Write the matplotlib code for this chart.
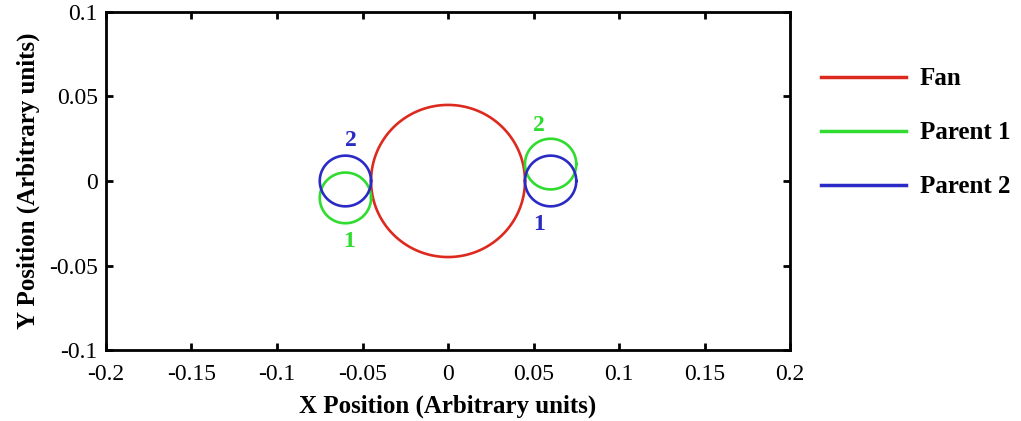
import numpy as np
import matplotlib.pyplot as plt

# circle geometry: (x centre, y centre, radius)
fan = (0.0, 0.0, 0.045)
parent1 = [(-0.06, -0.01, 0.015), (0.06, 0.01, 0.015)]
parent2 = [(-0.06, 0.0, 0.015), (0.06, 0.0, 0.015)]

# small index labels next to the parent circles: (x, y, text, series)
tags = [(-0.057, 0.024, '2', 'p2'), (-0.058, -0.036, '1', 'p1'),
        (0.053, 0.033, '2', 'p1'), (0.053, -0.026, '1', 'p2')]

red = '#dd2a1e'
green = '#2fdc2f'
blue = '#2a2ac4'
cols = {'p1': green, 'p2': blue}

plt.rcParams['font.family'] = ['Liberation Serif', 'DejaVu Serif']

fig = plt.figure(figsize=(10.21, 4.21), dpi=100)
ax = fig.add_axes([0.1038, 0.1686, 0.67, 0.803])

t = np.linspace(0, 2 * np.pi, 400)

def circle(c, color, label=None):
    x0, y0, r = c
    return ax.plot(x0 + r * np.cos(t), y0 + r * np.sin(t), color=color, lw=1.9, label=label)

circle(fan, red, 'Fan')
for i, c in enumerate(parent1):
    circle(c, green, 'Parent 1' if i == 0 else None)
for i, c in enumerate(parent2):
    circle(c, blue, 'Parent 2' if i == 0 else None)

for x, y, s, k in tags:
    ax.text(x, y, s, color=cols[k], fontsize=17, fontweight='bold', ha='center', va='center')

ax.set_xlim(-0.2, 0.2)
ax.set_ylim(-0.1, 0.1)
ax.set_xticks(np.arange(-0.2, 0.201, 0.05))
ax.set_yticks(np.arange(-0.1, 0.101, 0.05))
ax.set_xticklabels(['-0.2', '-0.15', '-0.1', '-0.05', '0', '0.05', '0.1', '0.15', '0.2'])
ax.set_yticklabels(['-0.1', '-0.05', '0', '0.05', '0.1'])
ax.tick_params(direction='in', top=True, right=True, length=5, width=2, labelsize=17)
ax.tick_params(axis='x', pad=10)
ax.tick_params(axis='y', pad=6)
for sp in ax.spines.values():
    sp.set_linewidth(2)

ax.set_xlabel('X Position (Arbitrary units)', fontsize=18, fontweight='bold', labelpad=7)
ax.set_ylabel('Y Position (Arbitrary units)', fontsize=18, fontweight='bold', labelpad=6)

leg = fig.legend(loc='upper left', bbox_to_anchor=(0.804, 0.84), frameon=False, fontsize=18,
                 handlelength=3.4, handletextpad=0.56, labelspacing=1.24,
                 borderpad=0, borderaxespad=0)
for txt in leg.get_texts():
    txt.set_fontweight('bold')
for ln in leg.get_lines():
    ln.set_linewidth(2.5)

fig.savefig('out.png', dpi=100)
